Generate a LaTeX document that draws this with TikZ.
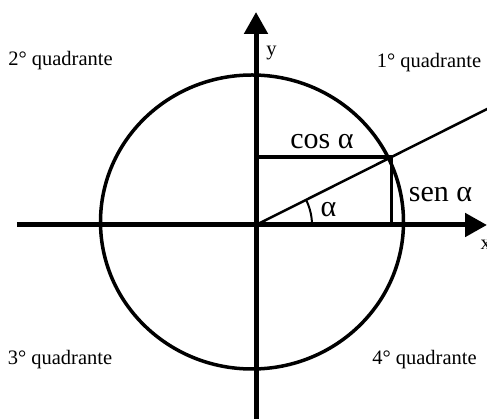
\documentclass[tikz,border=0pt]{standalone}
\usepackage{fontspec}
\setmainfont{Liberation Serif}
\usetikzlibrary{arrows.meta, positioning, calc}

\begin{document}
\begin{tikzpicture}[
  x=1pt, y=1pt,
  axis/.style = {-{Triangle[length=22pt,width=23pt]}, line width=5pt},
  circ/.style = {line width=3.5pt},
  proj/.style = {line width=3.5pt},
  ray/.style = {line width=2.5pt},
  quad/.style = {font=\fontsize{20.5}{24}\selectfont, inner sep=0pt, anchor=base},
  big/.style = {font=\fontsize{30}{36}\selectfont, inner sep=0pt, anchor=base}
]
\useasboundingbox (-256,-194) rectangle (231,225);
%--- PONTOS ---
\coordinate (O)  at (0,0);
\coordinate (xl) at (-239,0);
\coordinate (xr) at (231,0);
\coordinate (yb) at (0,-200);
\coordinate (yt) at (0,213);
\coordinate (C)  at (-4,3);
\coordinate (P)  at (135.5,68);
\coordinate (Px) at (135.5,0);
\coordinate (Py) at (0,68);
\coordinate (R)  at ($(O)!1.72!(P)$);
%--- CIRCULO ---
\draw[circ] (C) ellipse [x radius=151.5pt, y radius=147pt];
%--- EIXOS ---
\draw[axis] (xl) -- (xr);
\draw[axis] (yb) -- (yt);
%--- RAIO E PROJECOES ---
\draw[ray]  (O) -- (R);
\draw[proj] (Py) -- (P);
\draw[proj] (P) -- (Px);
\draw[line width=2pt] ($(O)+(56,0)$) arc[start angle=0, end angle=26.6, radius=56pt];
%--- ROTULOS ---
\node[big] (cos)   at (66,76)    {cos α};
\node[big] (sen)   at (184.5,23) {sen α};
\node[big] (alpha) at (72.5,8)   {α};
\node[quad] (ylab) at (15.5,169.5) {y};
\node[quad] (xlab) at (229.7,-25)  {x};
\node[quad] (q1) at (173,157)    {1° quadrante};
\node[quad] (q2) at (-195.5,159) {2° quadrante};
\node[quad] (q3) at (-196,-140)  {3° quadrante};
\node[quad] (q4) at (168.5,-140) {4° quadrante};
\end{tikzpicture}
\end{document}
